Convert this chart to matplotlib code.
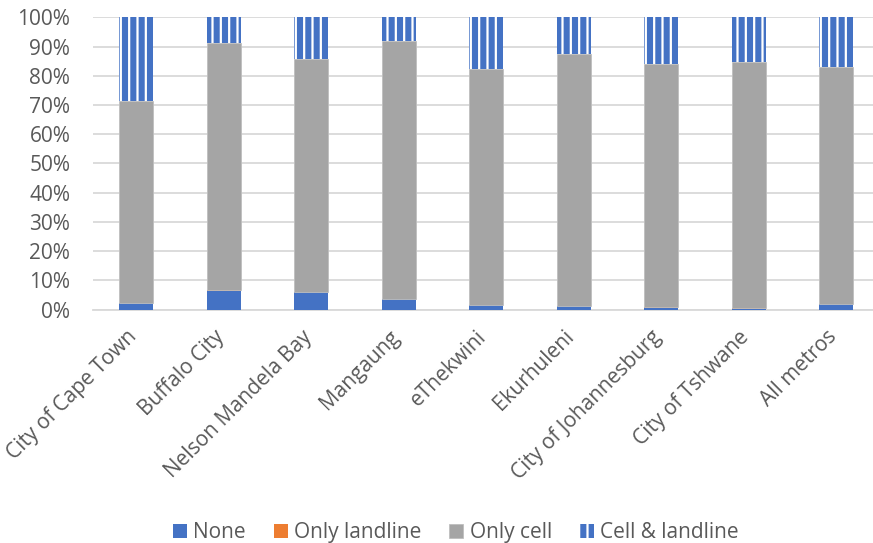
import numpy as np
import matplotlib
matplotlib.use("Agg")
import matplotlib.pyplot as plt
import matplotlib.transforms as mtransforms
from matplotlib.ticker import PercentFormatter

plt.rcParams['font.family'] = ['Open Sans', 'DejaVu Sans']
plt.rcParams['hatch.linewidth'] = 1.6

metros = ["City of Cape Town", "Buffalo City", "Nelson Mandela Bay", "Mangaung",
          "eThekwini", "Ekurhuleni", "City of Johannesburg", "City of Tshwane", "All metros"]
none_pct = [2.2, 6.5, 5.9, 3.5, 1.5, 1.1, 0.5, 0.3, 1.8]
landline_pct = [0.1, 0.1, 0.1, 0.1, 0.1, 0.1, 0.4, 0.1, 0.1]
cell_only_top = [71.3, 91.1, 85.7, 91.9, 82.2, 87.3, 83.9, 84.6, 82.9]

none_arr = np.array(none_pct)
land_arr = np.array(landline_pct)
cell_arr = np.array(cell_only_top) - none_arr - land_arr
both_arr = 100 - none_arr - land_arr - cell_arr

fig = plt.figure(figsize=(8.73, 5.43), dpi=100)
ax = fig.add_axes([0.106, 0.43, 0.902, 0.538])

x = np.arange(len(metros))
w = 0.39
grey = '#A5A5A5'
blue = '#4472C4'
orange = '#ED7D31'

ax.bar(x, none_arr, w, color=blue, label='None', zorder=3)
ax.bar(x, land_arr, w, bottom=none_arr, color=orange, label='Only landline', zorder=3)
ax.bar(x, cell_arr, w, bottom=none_arr + land_arr, color=grey, edgecolor='#BFBFBF',
       linewidth=0.6, label='Only cell', zorder=3)
ax.bar(x, both_arr, w, bottom=none_arr + land_arr + cell_arr, color=blue,
       edgecolor='white', hatch='||', linewidth=0, label='Cell & landline', zorder=3)

ax.set_xlim(-0.5, len(metros) - 0.5)
ax.set_ylim(0, 100)
ax.set_yticks(np.arange(0, 101, 10))
ax.yaxis.set_major_formatter(PercentFormatter(decimals=0))
ax.grid(axis='y', color='#D9D9D9', linewidth=1.3, zorder=0)
for s in ['top', 'right', 'left']:
    ax.spines[s].set_visible(False)
ax.spines['bottom'].set_color('#D9D9D9')
ax.spines['bottom'].set_linewidth(1.3)
ax.tick_params(axis='both', length=0, labelsize=15, colors='#595959')
ax.tick_params(axis='y', pad=16)
ax.tick_params(axis='x', pad=5)
ax.set_xticks(x)
ax.set_xticklabels(metros, rotation=45, ha='right', rotation_mode='anchor')
shift = mtransforms.ScaledTranslation(-0.10, -0.10, fig.dpi_scale_trans)
for lab in ax.get_xticklabels():
    lab.set_transform(lab.get_transform() + shift)

handles, labels = ax.get_legend_handles_labels()
fig.legend(handles, labels, loc='lower center', bbox_to_anchor=(0.522, -0.035), ncol=4,
           frameon=False, fontsize=15, labelcolor='#595959', handlelength=0.67,
           handleheight=0.67, handletextpad=0.3, columnspacing=1.35)

fig.savefig('out.png', dpi=100)
